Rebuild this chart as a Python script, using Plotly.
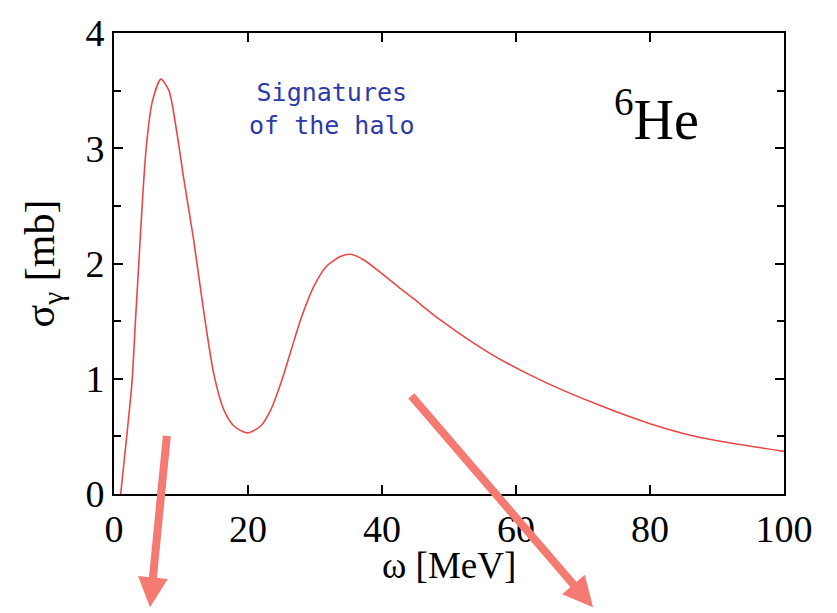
import plotly.graph_objects as go

# Photoabsorption cross section of 6He
omega = [1.0, 1.9, 2.7, 3.2, 3.7, 4.2, 4.8, 5.7, 7.0, 8.2, 9.45, 10.4, 11.9,
         13.4, 14.9, 16.4, 17.9, 19.9, 21.9, 23.4, 24.9, 26.4, 27.9, 29.9,
         31.8, 33.8, 35.3, 37.3, 39.8, 42.8, 44.8, 48.7, 56.1, 63.6, 72.0,
         80.0, 87.5, 100.0]
sigma = [0.0, 0.5, 0.98, 1.5, 2.0, 2.5, 3.0, 3.4, 3.6, 3.5, 3.11, 2.74, 2.20,
         1.58, 1.04, 0.73, 0.59, 0.53, 0.59, 0.73, 0.96, 1.24, 1.52, 1.81,
         1.98, 2.06, 2.08, 2.03, 1.92, 1.78, 1.69, 1.51, 1.22, 0.99, 0.78,
         0.61, 0.49, 0.37]

x_ticks = [0, 20, 40, 60, 80, 100]
y_ticks = [0, 1, 2, 3, 4]

W, H = 837, 613
L, R, T, B = 114, 53, 22, 119
pw, ph = W - L - R, H - T - B

def px(x):
    return (x - L) / pw

def py(y):
    return (H - B - y) / ph

fig = go.Figure()
fig.add_trace(go.Scatter(x=omega, y=sigma, mode="lines",
                         line=dict(color="#e8474a", width=1.6, shape="spline", smoothing=0.7),
                         showlegend=False, hoverinfo="skip"))

serif = "Liberation Serif, Times New Roman, serif"
axis_common = dict(showline=True, linecolor="black", linewidth=2, mirror="ticks",
                   ticks="inside", ticklen=9, tickwidth=1.5, tickcolor="black",
                   showgrid=False, zeroline=False,
                   tickfont=dict(family=serif, size=38, color="black"))

fig.update_xaxes(range=[0, 100], tickvals=x_ticks, ticktext=[str(v) for v in x_ticks],
                 **axis_common)
fig.update_yaxes(range=[0, 4], tickvals=y_ticks, ticktext=[str(v) for v in y_ticks],
                 minor=dict(dtick=0.5, ticks="inside", ticklen=7, tickwidth=1.5, tickcolor="black"),
                 title=dict(text="σ<sub>γ</sub> [mb]", font=dict(family=serif, size=42, color="black"), standoff=18),
                 **axis_common)

annotations = [
    dict(x=0.5, y=py(567), xref="paper", yref="paper", showarrow=False,
         xanchor="center", yanchor="middle",
         text="ω [MeV]", font=dict(family=serif, size=37, color="black")),
    dict(x=px(332), y=py(100), xref="paper", yref="paper", showarrow=False,
         xanchor="center", yanchor="middle",
         text="Signatures<br>of the halo", align="center",
         font=dict(family="Comic Sans MS, DejaVu Sans Mono, monospace", size=25, color="#2d3aa8")),
    dict(x=px(656), y=py(106), xref="paper", yref="paper", showarrow=False,
         xanchor="center", yanchor="middle",
         text="<sup>6</sup>He", font=dict(family=serif, size=56, color="black")),
    # decorative arrows
    dict(x=px(150), y=py(610), xref="paper", yref="paper", text="", showarrow=True,
         ax=167 - 150, ay=437 - 610, arrowhead=2, arrowsize=0.75, arrowwidth=8,
         arrowcolor="#f47a72", standoff=0),
    dict(x=px(593), y=py(610), xref="paper", yref="paper", text="", showarrow=True,
         ax=410 - 593, ay=397 - 610, arrowhead=2, arrowsize=0.75, arrowwidth=8,
         arrowcolor="#f47a72", standoff=0),
]

fig.update_layout(width=W, height=H, margin=dict(l=L, r=R, t=T, b=B),
                  paper_bgcolor="white", plot_bgcolor="white",
                  annotations=annotations, showlegend=False)

fig.write_html("out.html")
